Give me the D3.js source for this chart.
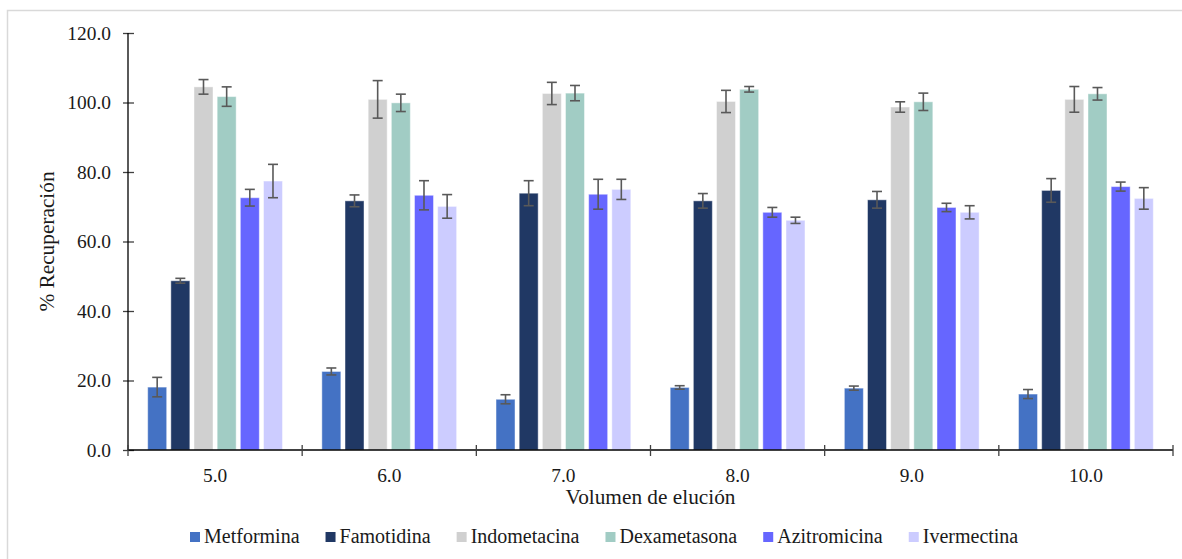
<!DOCTYPE html>
<html>
<head>
<meta charset="utf-8">
<script src="https://cdn.jsdelivr.net/npm/d3@7"></script>
<style>
  html, body { margin: 0; padding: 0; background: #fff; }
  svg { display: block; }
</style>
</head>
<body>
<svg id="chart" width="1182" height="559"></svg>
<script>
const categories = ["5.0", "6.0", "7.0", "8.0", "9.0", "10.0"];
const seriesNames = ["Metformina", "Famotidina", "Indometacina", "Dexametasona", "Azitromicina", "Ivermectina"];
const seriesColors = ["#4472C4", "#203864", "#D0D0D0", "#A1CCC4", "#6666FF", "#CCCCFF"];

const metformina    = [18.1, 22.6, 14.6, 18.0, 17.8, 16.1];
const famotidina    = [48.7, 71.7, 73.9, 71.7, 72.0, 74.7];
const indometacina  = [104.5, 100.9, 102.6, 100.3, 98.7, 100.9];
const dexametasona  = [101.7, 99.9, 102.7, 103.8, 100.2, 102.5];
const azitromicina  = [72.6, 73.3, 73.6, 68.4, 69.8, 75.8];
const ivermectina   = [77.4, 70.1, 75.0, 66.1, 68.4, 72.4];

const errMetformina   = [2.8, 1.0, 1.3, 0.5, 0.6, 1.3];
const errFamotidina   = [0.7, 1.7, 3.6, 2.1, 2.4, 3.4];
const errIndometacina = [2.1, 5.4, 3.2, 3.2, 1.5, 3.7];
const errDexametasona = [2.8, 2.5, 2.2, 0.8, 2.5, 1.8];
const errAzitromicina = [2.4, 4.2, 4.3, 1.4, 1.2, 1.3];
const errIvermectina  = [4.8, 3.4, 2.9, 0.9, 1.9, 3.1];

const yTicks = [0, 20, 40, 60, 80, 100, 120];

const seriesValues = [metformina, famotidina, indometacina, dexametasona, azitromicina, ivermectina];
const seriesErrors = [errMetformina, errFamotidina, errIndometacina, errDexametasona, errAzitromicina, errIvermectina];

const FONT = "'Liberation Serif', 'Times New Roman', serif";
const TXT = "#1a1a1a";

const svg = d3.select("#chart");

// outer frame
svg.append("rect").attr("x", 7.5).attr("y", 10.5).attr("width", 1200).attr("height", 600)
  .attr("fill", "none").attr("stroke", "#d9d9d9").attr("stroke-width", 1.5);

const pLeft = 128, pRight = 1173, pTop = 33, pBottom = 450;

const x0 = d3.scaleBand().domain(categories).range([pLeft, pRight]).paddingInner(0).paddingOuter(0);
const x1 = d3.scaleBand().domain(seriesNames).range([0, x0.bandwidth()]).paddingInner(0.18).paddingOuter(0.85);
const y = d3.scaleLinear().domain([0, 120]).range([pBottom, pTop]);

const data = [];
categories.forEach((c, ci) => {
  seriesNames.forEach((s, si) => {
    data.push({cat: c, series: s, color: seriesColors[si], v: seriesValues[si][ci], e: seriesErrors[si][ci]});
  });
});

// bars
svg.append("g").selectAll("rect").data(data).join("rect")
  .attr("x", d => x0(d.cat) + x1(d.series))
  .attr("y", d => y(d.v))
  .attr("width", x1.bandwidth())
  .attr("height", d => y(0) - y(d.v))
  .attr("fill", d => d.color)
  .attr("stroke", "#ffffff")
  .attr("stroke-opacity", 0.45)
  .attr("stroke-width", 1);

// error bars
const eg = svg.append("g").attr("stroke", "#595959").attr("stroke-width", 1.6).attr("fill", "none");
const capW = 5;
data.forEach(d => {
  const cx = x0(d.cat) + x1(d.series) + x1.bandwidth() / 2;
  const yt = y(d.v + d.e), yb = y(d.v - d.e);
  eg.append("line").attr("x1", cx).attr("x2", cx).attr("y1", yt).attr("y2", yb);
  eg.append("line").attr("x1", cx - capW).attr("x2", cx + capW).attr("y1", yt).attr("y2", yt);
  eg.append("line").attr("x1", cx - capW).attr("x2", cx + capW).attr("y1", yb).attr("y2", yb);
});

// y axis
const yAxis = d3.axisLeft(y).tickValues(yTicks).tickFormat(d3.format(".1f")).tickSize(5).tickPadding(12);
const yg = svg.append("g").attr("transform", `translate(${pLeft},0)`).call(yAxis);
yg.select(".domain").remove();
yg.append("line").attr("x1", 0).attr("x2", 0).attr("y1", pTop).attr("y2", pBottom).attr("stroke", "#000").attr("stroke-width", 1.3);
yg.selectAll(".tick line").attr("x1", -5).attr("x2", 6).attr("stroke", "#404040").attr("stroke-width", 1.3);
yg.selectAll(".tick text").attr("x", -17).attr("fill", TXT)
  .style("font-family", FONT).style("font-size", "19.4px");

// x axis
const xAxis = d3.axisBottom(x0).tickSize(0).tickPadding(18);
const xg = svg.append("g").attr("transform", `translate(0,${pBottom})`).call(xAxis);
xg.select(".domain").remove();
xg.append("line").attr("x1", pLeft).attr("x2", pRight).attr("y1", 0).attr("y2", 0).attr("stroke", "#000").attr("stroke-width", 1.3);
xg.selectAll(".tick text").attr("fill", TXT).style("font-family", FONT).style("font-size", "19.4px");
// category boundary ticks
const bounds = categories.map(c => x0(c)).concat([pRight]);
xg.selectAll(".bound").data(bounds).join("line").attr("class", "bound")
  .attr("x1", d => d).attr("x2", d => d).attr("y1", -5).attr("y2", 6)
  .attr("stroke", "#404040").attr("stroke-width", 1.3);

// axis titles
svg.append("text").attr("x", (pLeft + pRight) / 2).attr("y", 504).attr("text-anchor", "middle")
  .attr("fill", TXT).style("font-family", FONT).style("font-size", "21.3px").text("Volumen de elución");
svg.append("text").attr("transform", `translate(54,${(pTop + pBottom) / 2}) rotate(-90)`).attr("text-anchor", "middle")
  .attr("fill", TXT).style("font-family", FONT).style("font-size", "21.3px").text("% Recuperación");

// legend
const lg = svg.append("g");
let lx = 190;
const ly = 537;
seriesNames.forEach((s, i) => {
  lg.append("rect").attr("x", lx).attr("y", ly - 5).attr("width", 10).attr("height", 10).attr("fill", seriesColors[i]);
  const t = lg.append("text").attr("x", lx + 14).attr("y", ly + 6).attr("fill", TXT)
    .style("font-family", FONT).style("font-size", "20px").text(s);
  const w = t.node().getComputedTextLength();
  lx = lx + 14 + w + 26;
});
</script>
</body>
</html>
